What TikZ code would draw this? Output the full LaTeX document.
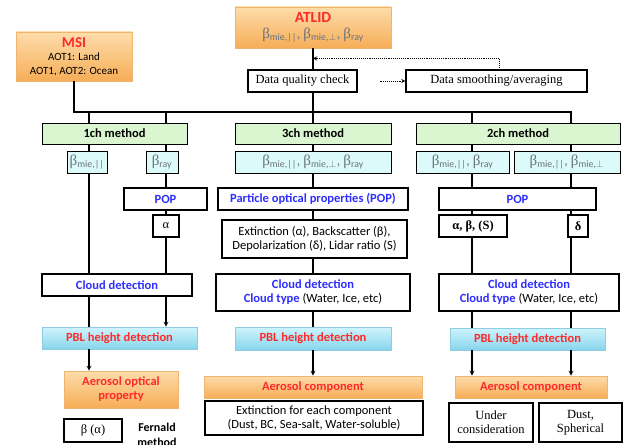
\documentclass[tikz,border=0pt]{standalone}
\usepackage{fontspec}
\setmainfont{Carlito}
\newfontfamily\tnr{Liberation Serif}
\usetikzlibrary{shadows}

\definecolor{hired}{HTML}{FF2A2A}
\definecolor{hiblue}{HTML}{2E2EFF}
\definecolor{betagray}{HTML}{69717E}
\definecolor{ortop}{HTML}{FDDDAA}
\definecolor{orbot}{HTML}{F6AD57}
\definecolor{orline}{HTML}{F0B470}
\definecolor{pbltop}{HTML}{CFF4FC}
\definecolor{pblbot}{HTML}{88D5ED}
\definecolor{pblline}{HTML}{8CCDE0}
\definecolor{methgreen}{HTML}{DAF6D0}
\definecolor{betacyan}{HTML}{DDFAFA}

% beta with subscripts
\newcommand{\sbeta}{{\tnr\fontsize{15}{15}\selectfont β}}
\newcommand{\bmie}[1]{\sbeta\textsubscript{mie,#1}}
\newcommand{\bray}{\sbeta\textsubscript{ray}}
\newcommand{\bpar}{||}
\newcommand{\bperp}{$\perp$}

\tikzset{
  box/.style={draw, line width=1.1pt, fill=white, inner sep=0pt,
    minimum height=22pt, align=center, font=\fontsize{12.5}{14}\selectfont},
  serifbox/.style={box, font=\tnr\fontsize{12.5}{14}\selectfont},
  orbox/.style={box, draw=orline, line width=0.6pt, top color=ortop, bottom color=orbot,
    drop shadow={opacity=0.25, shadow xshift=1.2pt, shadow yshift=-1.2pt}},
  pblbox/.style={box, draw=pblline, line width=0.6pt, top color=pbltop, bottom color=pblbot,
    text=hired, font=\bfseries\fontsize{12.5}{14}\selectfont,
    drop shadow={opacity=0.25, shadow xshift=1.2pt, shadow yshift=-1.2pt}},
  methbox/.style={box, line width=0.9pt, fill=methgreen, font=\bfseries\fontsize{12.5}{14}\selectfont},
  betabox/.style={box, line width=0.9pt, fill=betacyan, text=betagray, font=\fontsize{14}{14}\selectfont},
  link/.style={line width=1.2pt},
  arr/.style={line width=1.2pt, -stealth},
  dots/.style={line width=0.9pt, densely dotted, -stealth},
}

\begin{document}
\begin{tikzpicture}[x=1pt,y=-1pt]
\useasboundingbox (0,0) rectangle (623,444);

% sources
\node[orbox, minimum width=116pt, minimum height=49pt, font=\fontsize{11}{13.5}\selectfont] (msi) at (74,56.5)
  {{\fontsize{15}{15}\selectfont\bfseries\color{hired}MSI}\\AOT1: Land\\AOT1, AOT2: Ocean};
\node[orbox, minimum width=156pt, minimum height=41pt] (atlid) at (313,27.5)
  {{\fontsize{15.5}{15}\selectfont\bfseries\color{hired}ATLID}\\[1.5pt]
   {\fontsize{14}{14}\selectfont\color{betagray}\bmie{\bpar}, \bmie{\bperp}, \bray}};
\node[serifbox, minimum width=109pt] (dqc) at (302.5,81) {Data quality check};
\node[serifbox, minimum width=181pt] (smooth) at (496.5,81) {Data smoothing/averaging};

% column lines
\coordinate (bus) at (0,112);
\coordinate (c1a) at (89,0);
\coordinate (c1b) at (166,0);
\coordinate (c3) at (313,0);
\coordinate (c2a) at (472,0);
\coordinate (c2b) at (571,0);

% 1ch column
\node[methbox, minimum width=145pt, minimum height=21pt] (m1) at (114.5,133.5) {1ch method};
\node[betabox, minimum width=40pt] (b1mie) at (87,162) {\bmie{\bpar}};
\node[betabox, minimum width=32pt] (b1ray) at (162,162) {\bray};
\node[box, minimum width=83pt, text=hiblue, font=\bfseries\fontsize{12.5}{14}\selectfont] (pop1) at (165.5,199) {POP};
\node[serifbox, minimum width=26pt] (al1) at (166,226) {α};
\node[box, minimum width=150pt, text=hiblue, font=\bfseries\fontsize{12.5}{14}\selectfont] (cld1) at (117,285) {Cloud detection};
\node[pblbox, minimum width=155pt] (pbl1) at (119.5,338) {PBL height detection};
\node[orbox, minimum width=114pt, minimum height=37pt, text=hired, font=\bfseries\fontsize{12.5}{14}\selectfont] (aop1) at (121,389.5) {Aerosol optical\\property};
\node[serifbox, minimum width=58pt, minimum height=23pt] (bal1) at (93,430.5) {β (α)};
\node[anchor=north, inner sep=0pt, align=center, font=\bfseries\fontsize{12}{15}\selectfont] (fern) at (157,423) {Fernald\\method};

% 3ch column
\node[methbox, minimum width=156pt, minimum height=21pt] (m3) at (313,133.5) {3ch method};
\node[betabox, minimum width=156pt] (b3) at (313,162) {\bmie{\bpar}, \bmie{\bperp}, \bray};
\node[box, minimum width=190pt, text=hiblue, font=\bfseries\fontsize{12.5}{14}\selectfont] (pop3) at (313,199) {Particle optical properties (POP)};
\node[box, minimum width=185pt, minimum height=38pt] (ext3) at (314.5,239) {Extinction (α), Backscatter (β),\\Depolarization (δ), Lidar ratio (S)};
\node[box, minimum width=194pt, minimum height=37pt] (cld3) at (313,292.5)
  {\textcolor{hiblue}{\bfseries Cloud detection}\\\textcolor{hiblue}{\bfseries Cloud type} (Water, Ice, etc)};
\node[pblbox, minimum width=156pt, minimum height=23pt] (pbl3) at (313,338.5) {PBL height detection};
\node[orbox, minimum width=218pt, text=hired, font=\bfseries\fontsize{12.5}{14}\selectfont] (aer3) at (313,387) {Aerosol component};
\node[box, minimum width=218pt, minimum height=34pt] (exc3) at (314,418) {Extinction for each component\\(Dust, BC, Sea-salt, Water-soluble)};

% 2ch column
\node[methbox, minimum width=204pt, minimum height=21pt] (m2) at (518,133.5) {2ch method};
\node[betabox, minimum width=93pt] (b2a) at (462.5,162) {\bmie{\bpar}, \bray};
\node[betabox, minimum width=106pt] (b2b) at (567,162) {\bmie{\bpar}, \bmie{\bperp}};
\node[box, minimum width=157pt, text=hiblue, font=\bfseries\fontsize{12.5}{14}\selectfont] (pop2) at (517.5,199) {POP};
\node[serifbox, minimum width=68pt, font=\tnr\bfseries\fontsize{12.5}{14}\selectfont] (abs2) at (473,226) {α, β, (S)};
\node[serifbox, minimum width=20pt, font=\tnr\bfseries\fontsize{12.5}{14}\selectfont] (del2) at (578,226) {δ};
\node[box, minimum width=180pt, minimum height=37pt] (cld2) at (529,292.5)
  {\textcolor{hiblue}{\bfseries Cloud detection}\\\textcolor{hiblue}{\bfseries Cloud type} (Water, Ice, etc)};
\node[pblbox, minimum width=155pt] (pbl2) at (527.5,339) {PBL height detection};
\node[orbox, minimum width=152pt, text=hired, font=\bfseries\fontsize{12.5}{14}\selectfont] (aer2) at (531,387) {Aerosol component};
\node[serifbox, minimum width=84pt, minimum height=39pt] (und2) at (491,422.5) {Under\\consideration};
\node[serifbox, minimum width=83pt, minimum height=39pt] (dus2) at (580.5,422.5) {Dust,\\Spherical};

% top part
\draw[link] (msi.south) -- (msi.south |- bus) -- (c2b |- bus) -- (c2b |- m2.north);
\draw[link] (atlid.south) -- (c3 |- dqc.north);
\draw[link] (c3 |- dqc.south) -- (c3 |- m3.north);
\draw[link] (c1a |- bus) -- (c1a |- m1.north);
\draw[link] (c1b |- bus) -- (c1b |- m1.north);
\draw[link] (c2a |- bus) -- (c2a |- m2.north);
\draw[dots] ([xshift=22pt]dqc.east) -- (smooth.west);
\draw[dots] ([xshift=2.5pt]smooth.north) -- ++(0,-11) coordinate (dt) -- (c3 |- dt);

% 1ch links
\draw[link] (c1a |- m1.south) -- (c1a |- b1mie.north);
\draw[link] (c1b |- m1.south) -- (c1b |- b1ray.north);
\draw[link] (c1a |- b1mie.south) -- (c1a |- cld1.north);
\draw[link] (c1b |- b1ray.south) -- (c1b |- pop1.north);
\draw[link] (c1b |- pop1.south) -- (c1b |- al1.north);
\draw[link] (c1b |- al1.south) -- (c1b |- cld1.north);
\draw[link] (c1a |- cld1.south) -- (c1a |- pbl1.north);
\draw[arr] (c1b |- cld1.south) -- (c1b |- pbl1.north);
\draw[arr] (c1a |- pbl1.south) -- (c1a |- aop1.north);

% 3ch links
\draw[link] (m3) -- (b3);
\draw[link] (b3) -- (pop3);
\draw[link] (pop3) -- (c3 |- ext3.north);
\draw[link] (c3 |- ext3.south) -- (cld3);
\draw[link] (cld3) -- (pbl3);
\draw[arr] (pbl3) -- (aer3);

% 2ch links
\foreach \c/\up/\dn in {c2a/b2a/abs2, c2b/b2b/del2} {
  \draw[link] (\c |- m2.south) -- (\c |- \up.north);
  \draw[link] (\c |- \up.south) -- (\c |- pop2.north);
  \draw[link] (\c |- pop2.south) -- (\c |- \dn.north);
  \draw[link] (\c |- \dn.south) -- (\c |- cld2.north);
  \draw[link] (\c |- cld2.south) -- (\c |- pbl2.north);
  \draw[arr] (\c |- pbl2.south) -- (\c |- aer2.north);
}
\end{tikzpicture}
\end{document}
